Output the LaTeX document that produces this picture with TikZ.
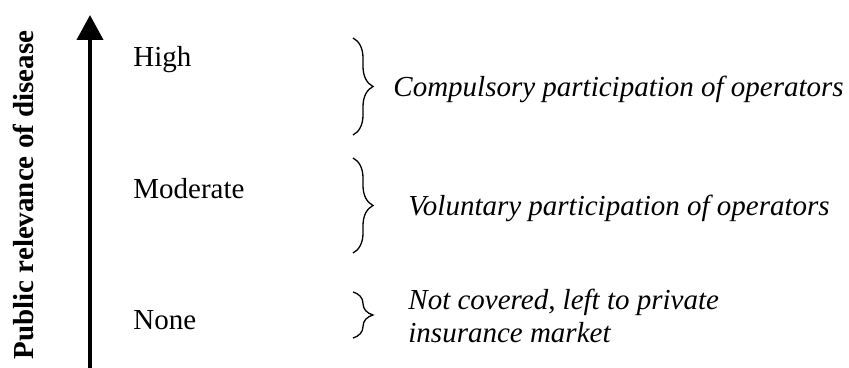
\documentclass[tikz,border=0pt]{standalone}
\usepackage{fontspec}
\setmainfont{Liberation Serif}
\usetikzlibrary{arrows.meta, decorations.pathreplacing}

\begin{document}
\begin{tikzpicture}[x=0.5pt, y=-0.5pt,
	every node/.style={font=\fontsize{14.5}{16.5}\selectfont, inner sep=0pt},
	nivel/.style={anchor=base west},
	efeito/.style={anchor=base west, font=\fontsize{14.5}{16.5}\selectfont\itshape},
	chave/.style={line width=0.65pt, decorate, decoration={brace, amplitude=10pt}}]

	\useasboundingbox (0,0) rectangle (849,368);

	% Eixo vertical
	\coordinate (base) at (90,372);
	\coordinate (topo) at (90,15);
	\draw[line width=2pt, -{Triangle[length=12.5pt, width=13pt]}] (base) -- (topo);
	\node[rotate=90, anchor=base, font=\fontsize{14.5}{16.5}\selectfont\bfseries] (eixo) at (33,195) {Public relevance of disease};

	% Niveis de relevancia
	\node[nivel] (alta) at (133,67) {High};
	\node[nivel] (media) at (133,199) {Moderate};
	\node[nivel] (nenhuma) at (133,329) {None};

	% Chaves
	\coordinate (c1a) at (353,38);  \coordinate (c1b) at (353,135);
	\coordinate (c2a) at (353,158); \coordinate (c2b) at (353,253);
	\coordinate (c3a) at (353,292); \coordinate (c3b) at (353,338);
	\draw[chave] (c1a) -- (c1b);
	\draw[chave] (c2a) -- (c2b);
	\draw[chave] (c3a) -- (c3b);

	% Participacao dos operadores
	\node[efeito] (compulsoria) at (393,97) {Compulsory participation of operators};
	\node[efeito] (voluntaria) at (408,216) {Voluntary participation of operators};
	\node[efeito, align=left] (privado) at (408,342) {Not covered, left to private\\insurance market};

\end{tikzpicture}
\end{document}
